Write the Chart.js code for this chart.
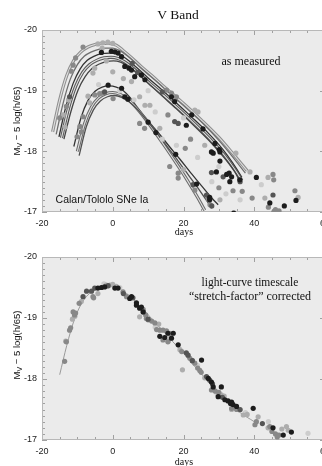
<!DOCTYPE html>
<html>
<head>
<meta charset="utf-8">
<script src="https://cdn.jsdelivr.net/npm/chart.js@4.4.1/dist/chart.umd.min.js"></script>
<style>
  html, body { margin: 0; padding: 0; background: #fff; }
  body { width: 322px; height: 466px; overflow: hidden; position: relative; }
  canvas { position: absolute; left: 0; }
  #top-chart { top: 0; }
  #bottom-chart { top: 233px; }
  .lbl { position: absolute; white-space: nowrap; color: #111; transform: translate(-50%, -50%); line-height: 1; }
  .serif { font-family: "Liberation Serif", "DejaVu Serif", serif; }
  .sans { font-family: "Liberation Sans", Arial, sans-serif; }
  .ylab { transform: translate(-50%, -50%) rotate(-90deg); font-size: 9.5px; }
  .ylab sub { font-size: 7px; vertical-align: -2px; line-height: 0; }
</style>
</head>
<body>
<canvas id="top-chart" width="345" height="233"></canvas>
<canvas id="bottom-chart" width="345" height="233"></canvas>

<div class="lbl serif" style="left:178px;top:15px;font-size:13.5px">V Band</div>
<div class="lbl serif" style="left:251px;top:61px;font-size:12px">as measured</div>
<div class="lbl sans" style="left:102px;top:199px;font-size:10.5px">Calan/Tololo SNe Ia</div>
<div class="lbl serif" style="left:184px;top:232px;font-size:10px">days</div>
<div class="lbl sans ylab" style="left:17px;top:121px">M<sub>V</sub> &minus; 5 log(h/65)</div>

<div class="lbl serif" style="left:250px;top:283px;font-size:11.5px">light-curve timescale</div>
<div class="lbl serif" style="left:250px;top:296px;font-size:12px">&ldquo;stretch-factor&rdquo; corrected</div>
<div class="lbl serif" style="left:184px;top:462px;font-size:10px">days</div>
<div class="lbl sans ylab" style="left:17px;top:345px">M<sub>V</sub> &minus; 5 log(h/65)</div>

<script>
// axis ranges and tick labels
const X_MIN = -20, X_MAX = 60;
const Y_TOP = -20, Y_BOTTOM = -17;
const xTicks = [-20, 0, 20, 40, 60];
const yTicks = [-20, -19, -18, -17];

// TOP PANEL: fitted light curves as measured
const a1Days = [-17, -15, -13, -11, -9, -7, -5, -3, -1, 1, 3, 5, 8, 11, 15, 20, 25, 30, 34, 38];
const a1Mags = [-18.32, -18.85, -19.25, -19.50, -19.64, -19.72, -19.76, -19.78, -19.78, -19.75, -19.66, -19.56, -19.40, -19.25, -19.04, -18.79, -18.52, -18.23, -17.96, -17.68];
const a2Days = [-16, -14, -12, -10, -8, -6, -4, -2, 0, 2, 4, 6, 9, 12, 16, 21, 26, 30, 34, 37.5];
const a2Mags = [-18.28, -18.80, -19.19, -19.43, -19.57, -19.64, -19.68, -19.70, -19.70, -19.66, -19.58, -19.48, -19.32, -19.17, -18.96, -18.70, -18.43, -18.18, -17.90, -17.64];
const a3Days = [-15.2, -13.2, -11.2, -9.2, -7.2, -5.2, -3.2, -1, 1, 3, 5, 7, 10, 13, 17, 22, 27, 31, 34, 36.5];
const a3Mags = [-18.24, -18.75, -19.12, -19.36, -19.50, -19.57, -19.61, -19.62, -19.61, -19.56, -19.47, -19.37, -19.21, -19.06, -18.85, -18.58, -18.30, -18.04, -17.80, -17.57];
const a4Days = [-14.5, -12.5, -10.5, -8.5, -6.5, -4.5, -2.5, -0.5, 1.5, 3.5, 5.5, 7.5, 10.5, 13.5, 17.5, 22.5, 27.5, 31.5, 34.5, 36.5];
const a4Mags = [-18.22, -18.71, -19.07, -19.30, -19.43, -19.50, -19.54, -19.55, -19.53, -19.47, -19.38, -19.28, -19.12, -18.97, -18.76, -18.49, -18.20, -17.94, -17.70, -17.52];
const a5Days = [-13.8, -11.8, -9.8, -7.8, -5.8, -3.8, -1.8, 0.2, 2.2, 4.2, 6.2, 8.2, 11, 14, 18, 23, 28, 32, 34.5, 36];
const a5Mags = [-18.20, -18.66, -19.01, -19.23, -19.37, -19.44, -19.48, -19.49, -19.47, -19.41, -19.32, -19.22, -19.07, -18.91, -18.70, -18.42, -18.13, -17.86, -17.66, -17.50];
const b1Days = [-11, -9, -7, -5, -3, -1, 1, 3, 5, 7, 10, 13, 16, 19, 22, 25, 28, 29.8];
const b1Mags = [-18.08, -18.55, -18.84, -18.99, -19.06, -19.08, -19.06, -19.00, -18.88, -18.72, -18.50, -18.30, -18.08, -17.87, -17.65, -17.44, -17.23, -17.12];
const b2Days = [-10, -8, -6, -4, -2, 0, 2, 4, 6, 9, 12, 15, 18, 21, 24, 26];
const b2Mags = [-18.00, -18.45, -18.73, -18.88, -18.95, -18.97, -18.94, -18.87, -18.76, -18.55, -18.31, -18.06, -17.80, -17.53, -17.24, -17.03];
const b3Days = [-9.5, -7.5, -5.5, -3.5, -1.5, 0.5, 2.5, 4.5, 6.5, 9.5, 12.5, 15.5, 18.5, 21.5, 24.5, 28];
const b3Mags = [-17.93, -18.40, -18.68, -18.83, -18.90, -18.92, -18.89, -18.82, -18.72, -18.52, -18.30, -18.07, -17.84, -17.60, -17.36, -17.06];

// TOP PANEL: observations, grouped by grey level
const topBlackDays = [-3.2, -0.4, 0.6, 1.5, 2.5, -1.3, 2.5, 3.4, 4.3, 3.4, 4.6, 5.3, 6.2, 8.1, 9.1, 16.6, 17.5, 22.3, 25.5, 10.0, 12.2, 20.8, 28.9, 30.1, 30.3, 27.9, 28.4, 30.3, 29.3, 32.2, 32.9, 33.6, 33.1, 35.9, 40.6, 44.4, 48.5, 51.8, 34.2, 17.8, 23.7, 27.4, 27.4];
const topBlackMags = [-19.63, -19.65, -19.64, -19.62, -19.56, -19.09, -19.04, -18.90, -18.86, -19.40, -19.37, -19.34, -19.23, -19.26, -19.18, -18.90, -18.82, -18.60, -18.37, -18.48, -18.31, -18.43, -18.13, -18.03, -17.99, -17.99, -17.97, -17.84, -17.66, -17.62, -17.64, -17.58, -17.50, -17.53, -17.57, -17.15, -17.10, -17.19, -16.98, -17.95, -17.46, -17.24, -17.20];
const topDarkDays = [17.5, 18.5, 27.9, 31.2, -2.3, 26.5, 28.0, 45.3, 22.7, -12.2, 5.5, 7.0, 14.0, 36.0];
const topDarkMags = [-18.49, -18.46, -17.65, -17.58, -18.98, -17.28, -17.10, -17.28, -17.45, -18.90, -19.45, -19.30, -18.98, -17.50];
const topMidDays = [-8.4, -10.5, -11.2, -11.7, -2.8, 0.1, 15.2, 16.6, 18.0, 15.6, 7.6, 9.0, 45.3, 45.5, 51.5, 44.0, 46.0, 47.0, 45.5, 39.4, 36.6, 23.2, 27.0, 27.5, 16.1, 18.5, 18.5, -15.0, -13.1, -9.3, -8.9, -8.4, -10.1, -5.1, -3.7, 22.0, 30.0, 34.0, 20.5];
const topMidMags = [-19.72, -19.54, -19.42, -19.32, -18.96, -18.87, -19.01, -18.96, -18.90, -18.60, -18.46, -18.38, -17.62, -17.53, -17.35, -17.08, -17.04, -17.02, -17.00, -17.23, -17.34, -17.36, -17.22, -17.12, -17.75, -17.64, -17.56, -18.55, -18.74, -18.41, -18.32, -18.57, -18.24, -18.93, -18.95, -18.20, -17.40, -17.35, -18.05];
const topLightDays = [-4.2, -2.8, -1.4, 0.0, -3.0, -5.1, -5.6, 0.0, 5.3, -1.8, 7.6, 9.1, 10.5, 23.2, 24.1, 13.3, 43.9, 52.4, 43.0, 38.8, 34.8, 30.3, -7.0, -6.5, -14.0, -12.5, -13.5, 20.0, 26.0, 3.0];
const topLightMags = [-19.77, -19.79, -19.80, -19.78, -19.70, -19.37, -19.29, -19.31, -19.15, -19.49, -18.90, -18.76, -18.76, -18.68, -18.65, -18.38, -17.57, -17.24, -17.23, -17.66, -17.97, -17.20, -18.91, -18.80, -18.60, -18.85, -18.40, -17.70, -18.10, -19.20];
const topPaleDays = [2, 6, 12, 14, 18, 24, 30, 32, 36, -4, 10, 20, 28, 42];
const topPaleMags = [-19.00, -18.85, -18.65, -18.20, -18.10, -17.90, -17.75, -17.30, -17.20, -19.10, -19.00, -18.55, -17.50, -17.45];

// BOTTOM PANEL: stretch-corrected template
const tplDays = [-15, -13, -11, -9, -7, -5, -3, -1, 1, 3, 5, 8, 11, 14, 17, 20, 24, 28, 32, 36, 40];
const tplMags = [-18.07, -18.55, -18.95, -19.22, -19.38, -19.46, -19.50, -19.52, -19.50, -19.44, -19.35, -19.18, -18.99, -18.80, -18.61, -18.42, -18.15, -17.90, -17.65, -17.45, -17.30];

// BOTTOM PANEL: corrected observations
const botBlackDays = [-3.2, -2.3, 0.6, 1.5, 4.8, 5.3, 6.7, 7.6, 6.7, 8.1, 8.6, 15.6, 17.1, 14.7, 16.6, 13.3, 18.5, 25.1, 27.0, 27.9, 28.4, 29.8, 30.7, 31.7, 32.6, 33.3, 34.0, 35.0, 33.6, 39.7, 45.3, 48.2, 50.5, -4.2];
const botBlackMags = [-19.50, -19.51, -19.49, -19.49, -19.32, -19.35, -19.21, -19.16, -19.25, -19.18, -19.10, -18.75, -18.75, -18.68, -18.67, -18.70, -18.56, -18.31, -18.01, -17.95, -17.87, -17.71, -17.87, -17.66, -17.64, -17.60, -17.58, -17.55, -17.62, -17.52, -17.20, -17.08, -17.13, -19.49];
const botDarkDays = [-8.4, -7.4, -6.0, -5.1, 5.7, 20.8, 21.3, 26.5, 27.4, 42.3, 28.2, 31.0, -1.3, 3.0, 10.0, 22.5, 36.0];
const botDarkMags = [-19.35, -19.44, -19.44, -19.49, -19.33, -18.43, -18.39, -18.04, -17.98, -17.27, -17.92, -17.70, -19.53, -19.40, -18.98, -18.30, -17.50];
const botMidDays = [-13.1, -11.2, -10.8, -10.5, -9.5, -5.6, 2.9, 3.9, 8.6, 9.5, -5.4, -11.9, -12.2, -13.6, 8.6, 9.3, 10.0, 11.0, 11.9, 12.4, 13.3, 14.2, 15.2, 16.1, 14.2, 15.6, 21.8, 22.5, 23.2, 24.0, 24.6, 25.0, 27.9, 30.0, 33.6, 35.0, 40.6, 40.2, 44.4, 45.0, 46.0, 46.5, 47.0, 19.5, 29.0];
const botMidMags = [-18.61, -19.10, -19.05, -19.08, -19.24, -19.35, -19.43, -19.35, -19.10, -18.99, -19.33, -18.84, -18.80, -18.29, -19.14, -19.05, -18.97, -18.95, -18.92, -18.81, -18.80, -18.80, -18.79, -18.75, -18.64, -18.61, -18.34, -18.30, -18.26, -18.18, -18.14, -18.11, -17.82, -17.78, -17.52, -17.50, -17.30, -17.25, -17.22, -17.14, -17.10, -17.05, -17.08, -18.45, -17.80];
const botLightDays = [-8.9, -4.2, -1.8, -0.8, -1.5, 0.0, 1.0, 7.6, -10.7, -11.4, -13.3, 15.6, 19.0, 19.7, 30.7, 33.6, 35.9, 36.9, 41.1, 43.9, 49.1, 49.6, 13.0, 26.0, 31.5, 38.0, 47.8];
const botLightMags = [-19.27, -19.40, -19.54, -19.54, -19.52, -19.55, -19.52, -19.02, -19.03, -18.98, -18.62, -18.62, -18.48, -18.15, -17.74, -17.50, -17.49, -17.41, -17.38, -17.20, -17.22, -17.16, -18.90, -18.02, -17.72, -17.42, -17.18];
const botPaleDays = [55.2, 2.0, -2.5, 12.0, 24.0, 29.5, 37.5, 44.0];
const botPaleMags = [-17.11, -19.50, -19.56, -18.85, -18.22, -17.76, -17.45, -17.30];

// helpers to turn the arrays into Chart.js datasets
function pts(days, mags) {
  return days.map((d, i) => ({ x: d, y: mags[i] }));
}

function lineSet(days, mags, color, width, order) {
  return {
    data: pts(days, mags), showLine: true, borderColor: color, borderWidth: width,
    pointRadius: 0, cubicInterpolationMode: 'monotone', order: order
  };
}

function dotSet(days, mags, color, order) {
  return {
    data: pts(days, mags), showLine: false, backgroundColor: color, borderColor: color,
    borderWidth: 0, pointRadius: 2.6, pointHoverRadius: 2.6, order: order
  };
}

// hollow looking curve: thick grey stroke with a pale core
function hollowSets(days, mags, edge, order) {
  return [lineSet(days, mags, edge, 3.2, order + 1), lineSet(days, mags, '#e0e0e0', 1.1, order)];
}

// plot background, frame and inward minor ticks
const framePlugin = {
  id: 'frame',
  beforeDatasetsDraw(chart) {
    const { ctx, chartArea: a, scales: { x, y } } = chart;
    ctx.save();
    ctx.fillStyle = '#ebebeb';
    ctx.fillRect(a.left, a.top, a.right - a.left, a.bottom - a.top);
    ctx.strokeStyle = '#a0a0a0';
    ctx.lineWidth = 1;
    ctx.beginPath();
    for (let d = X_MIN; d <= X_MAX; d += 5) {
      const px = Math.round(x.getPixelForValue(d)) + 0.5;
      const len = d % 20 === 0 ? 5 : 3;
      ctx.moveTo(px, a.bottom); ctx.lineTo(px, a.bottom - len);
      ctx.moveTo(px, a.top); ctx.lineTo(px, a.top + len);
    }
    for (let i = 0; i <= 30; i++) {
      const py = Math.round(y.getPixelForValue(Y_TOP + i * 0.1)) + 0.5;
      const len = i % 10 === 0 ? 5 : 3;
      ctx.moveTo(a.left, py); ctx.lineTo(a.left + len, py);
      ctx.moveTo(a.right, py); ctx.lineTo(a.right - len, py);
    }
    ctx.stroke();
    ctx.strokeStyle = '#b8b8b8';
    ctx.strokeRect(a.left + 0.5, a.top + 0.5, a.right - a.left - 1, a.bottom - a.top - 1);
    ctx.restore();
  }
};

function makeOptions(padTop, axisHeight) {
  const tickFont = { family: "'Liberation Sans', Arial, sans-serif", size: 9 };
  return {
    responsive: false,
    animation: false,
    events: [],
    layout: { padding: { top: padTop, right: 20, bottom: 0, left: 0 } },
    plugins: { legend: { display: false }, tooltip: { enabled: false }, title: { display: false } },
    scales: {
      x: {
        type: 'linear', min: X_MIN, max: X_MAX,
        afterBuildTicks: s => { s.ticks = xTicks.map(v => ({ value: v })); },
        afterFit: s => { s.height = axisHeight; },
        grid: { display: false, drawTicks: false, tickLength: 0 },
        border: { display: false },
        ticks: { padding: 6, color: '#222', font: tickFont, maxRotation: 0, autoSkip: false, callback: v => String(v) }
      },
      y: {
        type: 'linear', min: Y_TOP, max: Y_BOTTOM, reverse: true,
        afterBuildTicks: s => { s.ticks = yTicks.map(v => ({ value: v })); },
        afterFit: s => { s.width = 42; },
        grid: { display: false, drawTicks: false, tickLength: 0 },
        border: { display: false },
        ticks: { padding: 5, color: '#222', font: tickFont, autoSkip: false, callback: v => String(v) }
      }
    }
  };
}

// top chart
new Chart(document.getElementById('top-chart'), {
  type: 'scatter',
  data: {
    datasets: [
      ...hollowSets(a1Days, a1Mags, '#8e8e8e', 20),
      lineSet(a2Days, a2Mags, '#6e6e6e', 1.3, 19),
      lineSet(a3Days, a3Mags, '#333333', 1.3, 18),
      ...hollowSets(a4Days, a4Mags, '#5a5a5a', 16),
      lineSet(a5Days, a5Mags, '#444444', 1.3, 15),
      lineSet(b1Days, b1Mags, '#333333', 1.3, 14),
      ...hollowSets(b2Days, b2Mags, '#6a6a6a', 12),
      lineSet(b3Days, b3Mags, '#505050', 1.3, 11),
      dotSet(topPaleDays, topPaleMags, '#cdcdcd', 5),
      dotSet(topLightDays, topLightMags, '#adadad', 4),
      dotSet(topMidDays, topMidMags, '#888888', 3),
      dotSet(topDarkDays, topDarkMags, '#555555', 2),
      dotSet(topBlackDays, topBlackMags, '#1c1c1c', 1)
    ]
  },
  options: makeOptions(30, 21),
  plugins: [framePlugin]
});

// bottom chart
new Chart(document.getElementById('bottom-chart'), {
  type: 'scatter',
  data: {
    datasets: [
      lineSet(tplDays, tplMags, '#9a9a9a', 1, 10),
      dotSet(botPaleDays, botPaleMags, '#cdcdcd', 5),
      dotSet(botLightDays, botLightMags, '#adadad', 4),
      dotSet(botMidDays, botMidMags, '#888888', 3),
      dotSet(botDarkDays, botDarkMags, '#555555', 2),
      dotSet(botBlackDays, botBlackMags, '#1c1c1c', 1)
    ]
  },
  options: makeOptions(24, 26),
  plugins: [framePlugin]
});
</script>
</body>
</html>
